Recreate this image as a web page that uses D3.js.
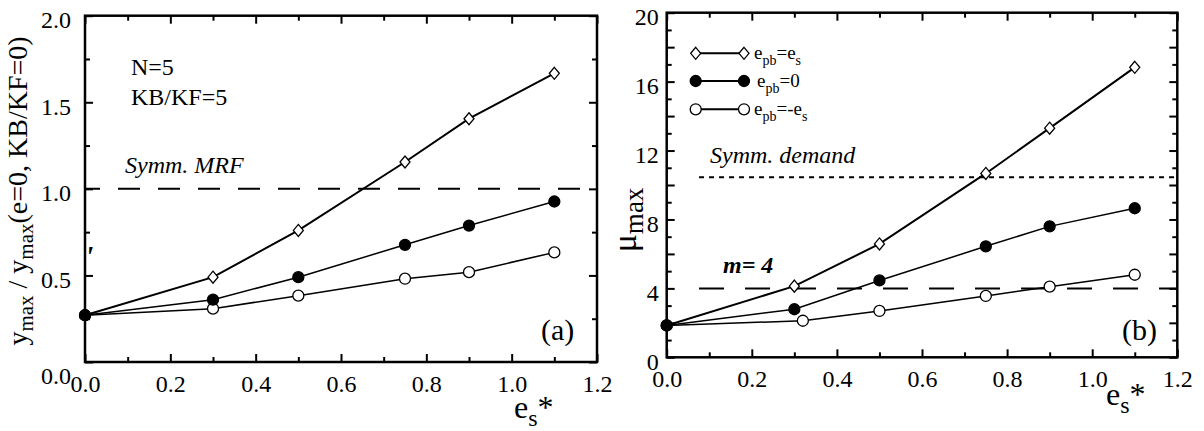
<!DOCTYPE html>
<html>
<head>
<meta charset="utf-8">
<script src="https://cdn.jsdelivr.net/npm/d3@7"></script>
<style>
  html, body { margin: 0; padding: 0; background: #fff; }
  svg { display: block; }
</style>
</head>
<body>
<div id="chart"></div>
<script>
// valores
const esStar = [0, 0.3, 0.5, 0.75, 0.9, 1.1];
const esStarOpenB = [0, 0.32, 0.5, 0.75, 0.9, 1.1];

const ratioEqual = [0.27, 0.49, 0.76, 1.155, 1.405, 1.667];
const ratioZero = [0.27, 0.36, 0.49, 0.677, 0.788, 0.927];
const ratioNeg = [0.27, 0.308, 0.383, 0.481, 0.519, 0.633];

const muEqual = [1.85, 4.13, 6.58, 10.67, 13.3, 16.83];
const muZero = [1.85, 2.79, 4.46, 6.44, 7.6, 8.65];
const muNeg = [1.85, 2.12, 2.69, 3.56, 4.1, 4.79];

const mrfLevel = 1.0;
const demandLevel = 10.45;
const mLevel = 4;

const xMajor = [0, 0.2, 0.4, 0.6, 0.8, 1.0, 1.2];
const xMinor = [0.1, 0.3, 0.5, 0.7, 0.9, 1.1];
const ratioMajor = [0, 0.5, 1.0, 1.5, 2.0];
const ratioMinor = [0.25, 0.75, 1.25, 1.75];
const muLabels = [0, 4, 8, 12, 16, 20];
const muMid = [2, 6, 10, 14, 18];
const muMinor = [1, 3, 5, 7, 9, 11, 13, 15, 17, 19];

const legendLabels = [
  { main: "e", sub: "pb", rest: "=e", sub2: "s" },
  { main: "e", sub: "pb", rest: "=0", sub2: "" },
  { main: "e", sub: "pb", rest: "=-e", sub2: "s" }
];

const FONT = "Liberation Serif";

const svg = d3.select("#chart").append("svg")
  .attr("width", 1204).attr("height", 431);

// todo texto já nasce com a fonte serifada
const txt = (parent, size) => parent.append("text")
  .attr("font-family", FONT).style("font-family", FONT)
  .attr("font-size", size).attr("fill", "#000");

// diamante um pouco mais largo que o do d3
const diamond = {
  draw(ctx, size) {
    const w = 5, h = 6;
    ctx.moveTo(0, -h);
    ctx.lineTo(w, 0);
    ctx.lineTo(0, h);
    ctx.lineTo(-w, 0);
    ctx.closePath();
  }
};

function panel(opt) {
  const x = d3.scaleLinear().domain([0, 1.2]).range([opt.left, opt.right]);
  const y = d3.scaleLinear().domain(opt.yDomain).range([opt.bottom, opt.top]);
  const g = svg.append("g");

  const clean = (sel) => {
    sel.select(".domain").remove();
    sel.attr("font-family", FONT).style("font-family", FONT).attr("font-size", 24);
    sel.selectAll("text").attr("font-family", FONT).style("font-family", FONT).attr("fill", "#000");
    sel.selectAll("line").attr("stroke", "#000").attr("stroke-width", 2);
  };

  // eixo x embaixo e em cima
  g.append("g").attr("transform", `translate(0,${opt.bottom})`)
    .call(d3.axisBottom(x).tickValues(xMajor).tickSize(-8).tickFormat(d3.format(".1f")))
    .call(clean)
    .call((s) => s.selectAll("text").attr("y", 30).attr("dy", 0));
  g.append("g").attr("transform", `translate(0,${opt.bottom})`)
    .call(d3.axisBottom(x).tickValues(xMinor).tickSize(-5).tickFormat(""))
    .call(clean);
  g.append("g").attr("transform", `translate(0,${opt.top})`)
    .call(d3.axisTop(x).tickValues(xMajor).tickSize(-8).tickFormat(""))
    .call(clean);
  g.append("g").attr("transform", `translate(0,${opt.top})`)
    .call(d3.axisTop(x).tickValues(xMinor).tickSize(-5).tickFormat(""))
    .call(clean);

  // eixo y esquerda e direita
  g.append("g").attr("transform", `translate(${opt.left},0)`)
    .call(d3.axisLeft(y).tickValues(opt.yLabels).tickSize(-8).tickFormat(opt.fmt))
    .call(clean)
    .call((s) => s.selectAll("text").attr("x", opt.labelGap)
      .attr("dy", (d) => d === 0 ? opt.zeroDy : 12));

  opt.yTicks.forEach((t) => {
    g.append("g").attr("transform", `translate(${opt.left},0)`)
      .call(d3.axisLeft(y).tickValues(t.v).tickSize(-t.len).tickFormat(""))
      .call(clean);
  });
  [{ v: opt.yLabels, len: 8 }].concat(opt.yTicks).forEach((t) => {
    g.append("g").attr("transform", `translate(${opt.right},0)`)
      .call(d3.axisRight(y).tickValues(t.v).tickSize(-t.len).tickFormat(""))
      .call(clean);
  });

  // moldura
  g.append("rect")
    .attr("x", opt.left).attr("y", opt.top)
    .attr("width", opt.right - opt.left).attr("height", opt.bottom - opt.top)
    .attr("fill", "none").attr("stroke", "#000").attr("stroke-width", 2.5);

  return { g, x, y };
}

const circle = d3.symbol(d3.symbolCircle, 5.5 * 5.5 * Math.PI);

function series(p, xs, ys, kind, width) {
  const pts = xs.map((d, i) => [d, ys[i]]);
  p.g.append("path")
    .datum(pts)
    .attr("fill", "none").attr("stroke", "#000").attr("stroke-width", width)
    .attr("d", d3.line().x((d) => p.x(d[0])).y((d) => p.y(d[1])));
  p.g.selectAll(null).data(pts).enter().append("path")
    .attr("transform", (d) => `translate(${p.x(d[0])},${p.y(d[1])})`)
    .attr("d", kind === "diamond" ? d3.symbol(diamond)() : circle())
    .attr("fill", kind === "filled" ? "#000" : "#fff")
    .attr("stroke", "#000").attr("stroke-width", 1.3);
}

// linha horizontal de referência, começando em x0 (unidades do eixo)
function hline(p, v, x0, dash, offset) {
  p.g.append("line")
    .attr("x1", p.x(x0)).attr("x2", p.x(1.2))
    .attr("y1", p.y(v)).attr("y2", p.y(v))
    .attr("stroke", "#000").attr("stroke-width", 2)
    .attr("stroke-dasharray", dash).attr("stroke-dashoffset", offset);
}

function esLabel(x, y) {
  const t = txt(svg, 32).attr("x", x).attr("y", y);
  t.append("tspan").text("e");
  t.append("tspan").attr("dy", 8).attr("font-size", 24).text("s");
  t.append("tspan").attr("dy", -8).text("*");
}

// ---------- painel (a)
const a = panel({
  left: 85, right: 597, top: 15.7, bottom: 362,
  yDomain: [0, 2], yLabels: ratioMajor, fmt: d3.format(".1f"),
  yTicks: [{ v: ratioMinor, len: 5 }],
  labelGap: -14, zeroDy: 21
});

hline(a, mrfLevel, 0, "22,18", 7);
series(a, esStar, ratioNeg, "open", 1.5);
series(a, esStar, ratioZero, "filled", 1.5);
series(a, esStar, ratioEqual, "diamond", 2);
// o ponto cheio em zero fica por cima
a.g.append("path")
  .attr("transform", `translate(${a.x(0)},${a.y(ratioZero[0])})`)
  .attr("d", circle())
  .attr("fill", "#000");

txt(a.g, 24).attr("x", 131).attr("y", 75).text("N=5");
txt(a.g, 24).attr("x", 131).attr("y", 105).text("KB/KF=5");
txt(a.g, 24).attr("x", 125).attr("y", 173).attr("font-style", "italic").text("Symm. MRF");
txt(a.g, 30).attr("x", 541).attr("y", 340).text("(a)");
txt(a.g, 30).attr("x", 85).attr("y", 266)
  .attr("font-style", "italic").attr("font-weight", "bold").text("'");

const yt = txt(svg, 28)
  .attr("transform", "translate(27,191) rotate(-90)")
  .attr("text-anchor", "middle");
yt.append("tspan").text("y");
yt.append("tspan").attr("dy", 6).attr("font-size", 21).text("max");
yt.append("tspan").attr("dy", -6).text(" / y");
yt.append("tspan").attr("dy", 6).attr("font-size", 21).text("max");
yt.append("tspan").attr("dy", -6).text("(e=0, KB/KF=0)");

esLabel(514, 418);

// ---------- painel (b)
const b = panel({
  left: 666.7, right: 1177.3, top: 12.7, bottom: 357.3,
  yDomain: [0, 20], yLabels: muLabels, fmt: d3.format("d"),
  yTicks: [{ v: muMid, len: 8 }, { v: muMinor, len: 5 }],
  labelGap: -8, zeroDy: 12
});

hline(b, demandLevel, 0.076, "5,5", 0);
hline(b, mLevel, 0.076, "25,21", 0);
series(b, esStarOpenB, muNeg, "open", 1.5);
series(b, esStar, muZero, "filled", 1.5);
series(b, esStar, muEqual, "diamond", 2);
b.g.append("path")
  .attr("transform", `translate(${b.x(0)},${b.y(muZero[0])})`)
  .attr("d", circle())
  .attr("fill", "#000");

// legenda
const kinds = ["diamond", "filled", "open"];
const legY = [53.3, 81, 109.3];
kinds.forEach((k, i) => {
  const lg = b.g.append("g");
  lg.append("line").attr("x1", 695.7).attr("x2", 744).attr("y1", legY[i]).attr("y2", legY[i])
    .attr("stroke", "#000").attr("stroke-width", 2);
  [695.7, 744].forEach((px) => {
    lg.append("path")
      .attr("transform", `translate(${px},${legY[i]})`)
      .attr("d", k === "diamond" ? d3.symbol(diamond)() : circle())
      .attr("fill", k === "filled" ? "#000" : "#fff")
      .attr("stroke", "#000").attr("stroke-width", 1.3);
  });
  const l = legendLabels[i];
  const t = txt(lg, 19).attr("x", i === 1 ? 757 : 754).attr("y", legY[i] + 6);
  t.append("tspan").text(l.main);
  t.append("tspan").attr("dy", 6).attr("font-size", 14).text(l.sub);
  t.append("tspan").attr("dy", -6).text(l.rest);
  if (l.sub2) t.append("tspan").attr("dy", 6).attr("font-size", 14).text(l.sub2);
});

txt(b.g, 24).attr("x", 710).attr("y", 163).attr("font-style", "italic").text("Symm. demand");
txt(b.g, 24).attr("x", 723).attr("y", 273)
  .attr("font-style", "italic").attr("font-weight", "bold").text("m= 4");
txt(b.g, 30).attr("x", 1122).attr("y", 340).text("(b)");

const mt = txt(svg, 34)
  .attr("transform", "translate(636,220) rotate(-90)")
  .attr("text-anchor", "middle");
mt.append("tspan").text("μ");
mt.append("tspan").attr("dy", 7).attr("font-size", 27).text("max");

esLabel(1106, 405);
</script>
</body>
</html>
